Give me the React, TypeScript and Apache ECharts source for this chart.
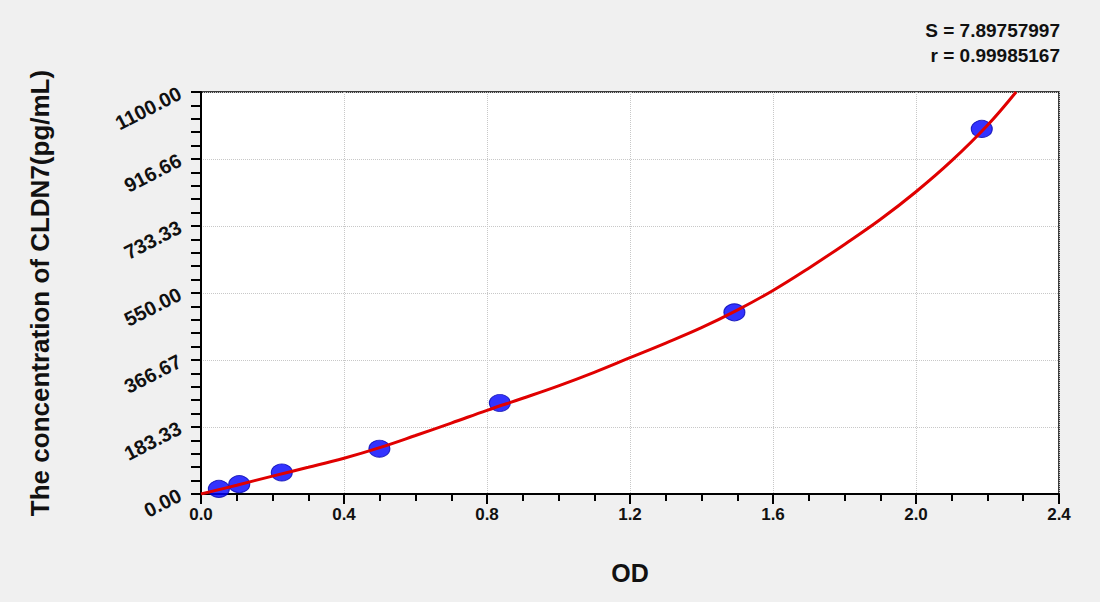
import * as echarts from "echarts"
import { useEffect, useRef } from "react"

// Standard points (OD vs concentration)
const pointOD = [0.05, 0.107, 0.226, 0.499, 0.836, 1.492, 2.184]
const pointConc = [14, 27, 59, 124, 249, 497, 999]

// Fitted curve
const curveOD = [0, 0.1, 0.2, 0.3, 0.4, 0.5, 0.6, 0.7, 0.8, 0.9, 1.0, 1.1, 1.2, 1.3, 1.4, 1.5, 1.6, 1.7, 1.8, 1.9, 2.0, 2.1, 2.2, 2.28]
const curveConc = [0, 24, 49, 73, 98, 127, 160, 194, 229, 262, 296, 333, 373, 413, 455, 503, 557, 618, 683, 751, 827, 912, 1009, 1100]

const yTickLabels = ["0.00", "183.33", "366.67", "550.00", "733.33", "916.66", "1100.00"]
const fitStats = ["S = 7.89757997", "r = 0.99985167"]

const FONT = "Arial, 'Liberation Sans', sans-serif"

export default function App() {
  const ref = useRef<HTMLDivElement>(null)

  useEffect(() => {
    if (!ref.current) return
    const chart = echarts.init(ref.current, null, { renderer: "svg" })

    chart.setOption({
      animation: false,
      backgroundColor: "#f0f0f0",
      textStyle: { fontFamily: FONT },
      grid: {
        left: 201,
        right: 41,
        top: 92,
        bottom: 108,
        show: true,
        backgroundColor: "#ffffff",
        borderColor: "#000000",
        borderWidth: 1.5,
      },
      graphic: fitStats.map((t, i) => ({
        type: "text",
        right: 40,
        top: 21 + i * 25,
        style: { text: t, font: `bold 19px ${FONT}`, fill: "#111" },
      })),
      xAxis: {
        type: "value",
        min: 0,
        max: 2.4,
        interval: 0.4,
        name: "OD",
        nameLocation: "middle",
        nameGap: 66,
        nameTextStyle: { fontSize: 25, fontWeight: "bold", color: "#111" },
        axisLine: { onZero: false, lineStyle: { color: "#000", width: 2 } },
        axisTick: { length: 10, lineStyle: { color: "#000", width: 2 } },
        minorTick: { show: true, splitNumber: 4, length: 7, lineStyle: { color: "#000", width: 2 } },
        axisLabel: {
          margin: 12,
          fontSize: 17,
          fontWeight: "bold",
          color: "#111",
          formatter: (v: number) => v.toFixed(1),
        },
        splitLine: { show: true, lineStyle: { color: "#c8c8c8", type: "dotted" } },
      },
      yAxis: {
        type: "value",
        min: 0,
        max: 1100,
        interval: 1100 / 6,
        name: "The concentration of CLDN7(pg/mL)",
        nameLocation: "middle",
        nameGap: 148,
        nameTextStyle: { fontSize: 26, fontWeight: "bold", color: "#111" },
        axisLine: { onZero: false, lineStyle: { color: "#000", width: 2 } },
        axisTick: { length: 10, lineStyle: { color: "#000", width: 2 } },
        minorTick: { show: true, splitNumber: 5, length: 10, lineStyle: { color: "#000", width: 2 } },
        axisLabel: {
          margin: 21,
          rotate: 27,
          fontSize: 20,
          fontWeight: "bold",
          color: "#111",
          formatter: (v: number) => yTickLabels[Math.round(v / (1100 / 6))] ?? "",
        },
        splitLine: { show: true, lineStyle: { color: "#c8c8c8", type: "dotted" } },
      },
      series: [
        {
          type: "line",
          data: curveOD.map((x, i) => [x, curveConc[i]]),
          smooth: 0.4,
          symbol: "none",
          lineStyle: { color: "#e00000", width: 3 },
          z: 3,
        },
        {
          type: "scatter",
          data: pointOD.map((x, i) => [x, pointConc[i]]),
          symbol: "circle",
          symbolSize: [21, 17],
          itemStyle: { color: "#0000ff", borderColor: "#0000b0", borderWidth: 1 },
          z: 2,
        },
      ],
    })

    return () => chart.dispose()
  }, [])

  return (
    <div
      ref={ref}
      style={{ position: "fixed", left: 0, top: 0, width: 1100, height: 602 }}
    />
  )
}
